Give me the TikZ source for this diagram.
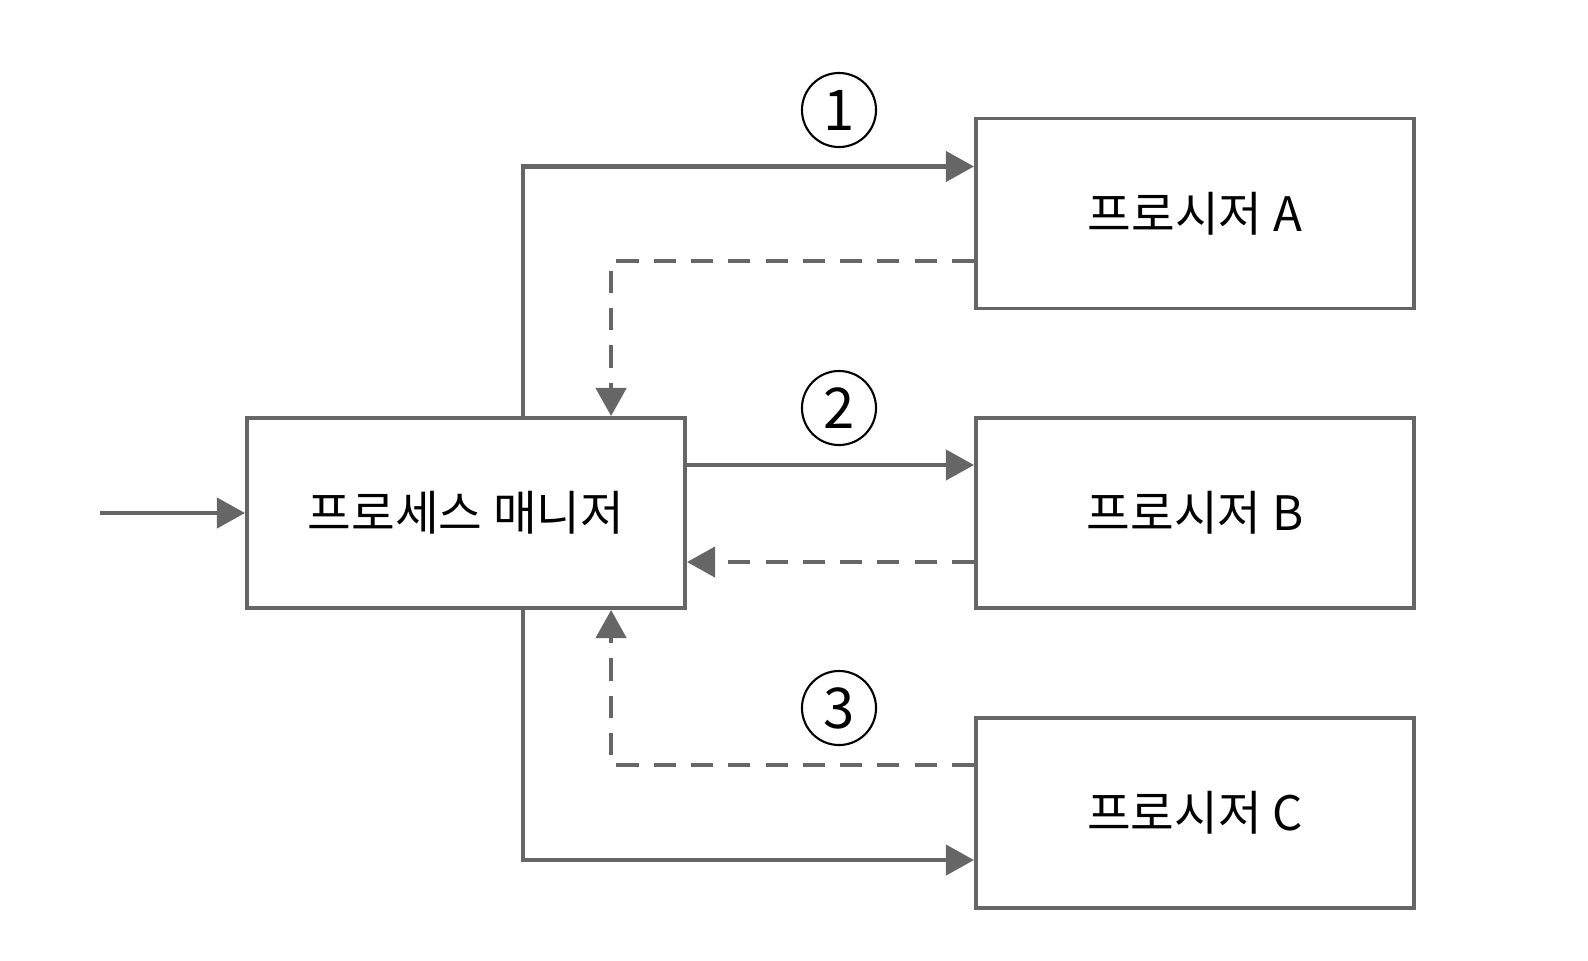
\documentclass[tikz,border=0pt]{standalone}
\usepackage{fontspec}
\setmainfont{Noto Sans CJK KR}
\usetikzlibrary{arrows.meta}
\definecolor{lg}{HTML}{666666}
\tikzset{
  boxnode/.style={draw=lg, line width=1.05pt, minimum width=4.38cm, minimum height=1.90cm, inner sep=0pt, font=\fontsize{13.5pt}{16pt}\selectfont},
  arr/.style={draw=lg, line width=1.35pt, -{Triangle[length=8pt,width=8.5pt]}},
  darr/.style={arr, dash pattern=on 6.3pt off 4.3pt},
  numnode/.style={circle, draw=black, line width=0.6pt, minimum size=0.74cm, inner sep=0pt, font=\fontsize{16pt}{18pt}\selectfont}
}
\begin{document}
\begin{tikzpicture}[x=0.01cm, y=-0.01cm]
\useasboundingbox (0,0) rectangle (1588,960);
\node[boxnode] (mgr) at (466,513) {프로세스 매니저};
\node[boxnode] (A) at (1195,213.5) {프로시저 A};
\node[boxnode] (B) at (1195,513) {프로시저 B};
\node[boxnode] (C) at (1195,813) {프로시저 C};
\node[numnode] (n1) at (839,110) {1};
\node[numnode] (n2) at (839,408) {2};
\node[numnode] (n3) at (839,708) {3};
\coordinate (in) at (100,513);
\draw[arr] (in) -- (mgr.west);
\draw[arr] ([xshift=0.57cm]mgr.north) |- ([yshift=0.47cm]A.west);
\draw[darr] ([yshift=-0.475cm]A.west) -| ([xshift=1.45cm]mgr.north);
\draw[arr] ([yshift=0.48cm]mgr.east) -- ([yshift=0.48cm]B.west);
\draw[darr] ([yshift=-0.49cm]B.west) -- ([yshift=-0.49cm]mgr.east);
\draw[darr] ([yshift=0.48cm]C.west) -| ([xshift=1.45cm]mgr.south);
\draw[arr] ([xshift=0.57cm]mgr.south) |- ([yshift=-0.47cm]C.west);
\end{tikzpicture}
\end{document}
